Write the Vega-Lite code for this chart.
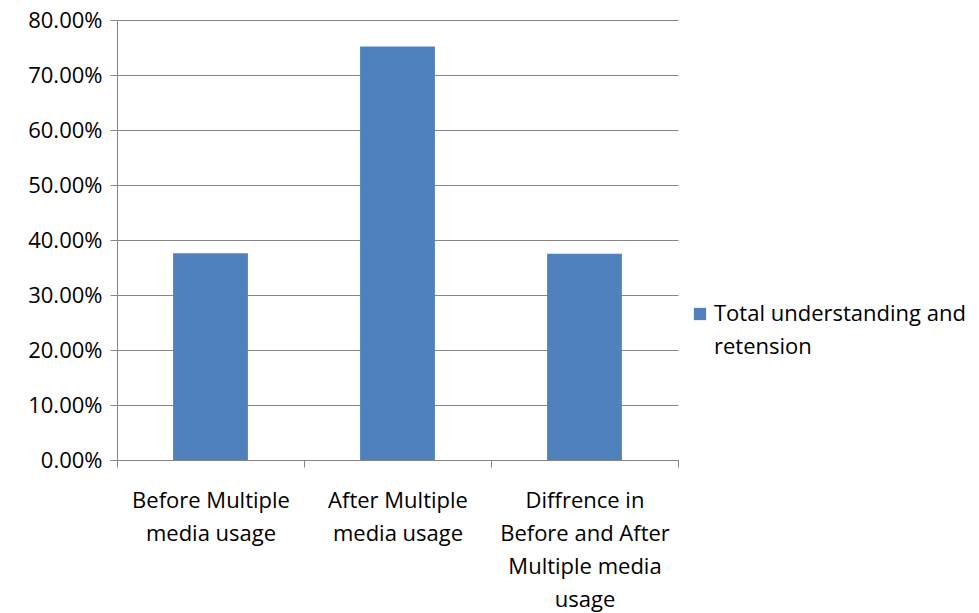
{
  "$schema": "https://vega.github.io/schema/vega-lite/v6.json",
  "autosize": "none",
  "width": 561,
  "height": 440,
  "padding": {"left": 117, "top": 20, "right": 301, "bottom": 153},
  "background": "white",
  "config": {
    "view": {"stroke": null},
    "font": "Open Sans",
    "style": {"guide-label": {"lineHeight": 33}}
  },
  "data": {
    "values": [
      {"category": "Before Multiple\nmedia usage", "series": "Total understanding and retension", "value": 0.376},
      {"category": "After Multiple\nmedia usage", "series": "Total understanding and retension", "value": 0.752},
      {"category": "Diffrence in\nBefore and After\nMultiple media\nusage", "series": "Total understanding and retension", "value": 0.375}
    ]
  },
  "mark": {"type": "bar", "color": "#4F81BD", "width": {"band": 0.4}},
  "encoding": {
    "x": {
      "field": "category",
      "type": "nominal",
      "sort": null,
      "scale": {"paddingInner": 0, "paddingOuter": 0},
      "axis": {
        "title": null,
        "labelAngle": 0,
        "labelExpr": "split(datum.label, '\\n')",
        "labelFontSize": 22,
        "labelColor": "black",
        "labelLineHeight": 33,
        "labelPadding": 23,
        "labelLimit": 300,
        "tickBand": "extent",
        "tickSize": 7,
        "tickColor": "#868686",
        "domainColor": "#868686",
        "grid": false
      }
    },
    "y": {
      "field": "value",
      "type": "quantitative",
      "scale": {"domain": [0, 0.8]},
      "axis": {
        "title": null,
        "format": ".2%",
        "values": [0, 0.1, 0.2, 0.3, 0.4, 0.5, 0.6, 0.7, 0.8],
        "labelOverlap": false,
        "labelFontSize": 22,
        "labelColor": "black",
        "labelPadding": 8,
        "tickSize": 7,
        "tickColor": "#868686",
        "domainColor": "#868686",
        "gridColor": "#868686",
        "grid": true
      }
    },
    "fill": {
      "field": "series",
      "type": "nominal",
      "scale": {"range": ["#4F81BD"]},
      "legend": {
        "title": null,
        "orient": "none",
        "legendX": 572,
        "legendY": 283,
        "symbolType": "square",
        "symbolSize": 150,
        "symbolStrokeWidth": 0,
        "labelFontSize": 22,
        "labelColor": "black",
        "labelLimit": 300,
        "labelExpr": "['Total understanding and', 'retension']",
        "labelOffset": 3
      }
    }
  }
}
